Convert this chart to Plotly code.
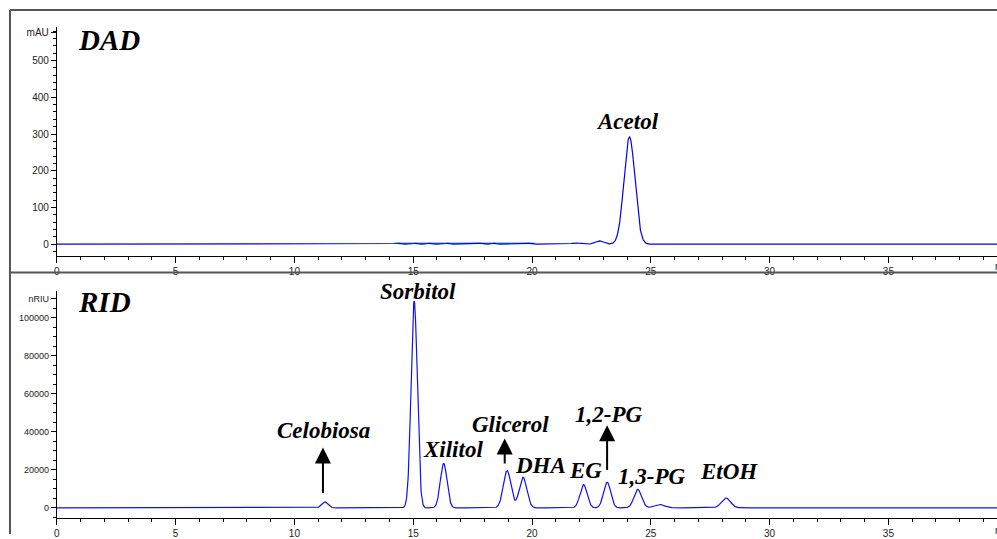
import numpy as np
import plotly.graph_objects as go

# ---------------- data ----------------
# RID detector peaks
rid_names = ["Celobiosa", "Sorbitol", "Xilitol", "Glicerol", "DHA", "EG", "1,2-PG", "1,3-PG", "unk", "EtOH"]
rid_times = [11.28, 15.04, 16.28, 18.95, 19.62, 22.17, 23.16, 24.45, 25.36, 28.16]   # min
rid_heights = [3100, 108700, 23400, 19600, 16100, 12200, 13500, 9700, 1800, 5200]    # nRIU
rid_sigmas = [0.13, 0.13, 0.14, 0.16, 0.16, 0.15, 0.15, 0.16, 0.22, 0.19]            # min

# DAD detector peaks
dad_times = [9.18, 14.4, 15.1, 15.7, 16.45, 17.8, 18.4, 19.9, 21.86, 22.84, 24.1]
dad_heights = [2, 2.5, 2.5, 2.5, 2.5, 3, 2.5, 2.5, 3.5, 9, 292]
dad_sigmas = [0.15, 0.08, 0.08, 0.08, 0.08, 0.1, 0.08, 0.08, 0.18, 0.18, 0.23]

# secondary (teal) DAD signal segment
dad2_start, dad2_end, dad2_level = 14.2, 20.1, 2.5

x_end = 39.57
dad_yticks = [0, 100, 200, 300, 400, 500]
rid_yticks = [0, 20000, 40000, 60000, 80000, 100000]
x_ticks = [0, 5, 10, 15, 20, 25, 30, 35]


def chromatogram(t, times, heights, sigmas):
    y = np.zeros_like(t)
    for c, h, s in zip(times, heights, sigmas):
        y += h * np.exp(-0.5 * ((t - c) / s) ** 2)
    return y


t = np.linspace(0, x_end, 4000)
dad_y = chromatogram(t, dad_times, dad_heights, dad_sigmas)
rid_y = chromatogram(t, rid_times, rid_heights, rid_sigmas)

t2 = np.linspace(dad2_start, dad2_end, 200)
dad2_y = np.full_like(t2, dad2_level)

fig = go.Figure()
fig.add_trace(go.Scatter(x=t2, y=dad2_y, mode="lines", line=dict(color="#3a9fc0", width=1.5),
                         xaxis="x", yaxis="y", hoverinfo="skip"))
fig.add_trace(go.Scatter(x=t, y=dad_y, mode="lines", line=dict(color="#0000ee", width=1.2),
                         xaxis="x", yaxis="y"))
fig.add_trace(go.Scatter(x=t, y=rid_y, mode="lines", line=dict(color="#1010f0", width=1.2),
                         xaxis="x2", yaxis="y2"))

tickfont = dict(family="Liberation Sans, Arial", size=10, color="#222")
x_common = dict(
    range=[0, x_end], domain=[54 / 997, 1], showline=True, linecolor="black", linewidth=1,
    ticks="outside", ticklen=6, tickcolor="black", tickvals=x_ticks, tickfont=tickfont,
    showgrid=False, zeroline=False,
    minor=dict(ticks="outside", ticklen=3, dtick=1, tickcolor="black", showgrid=False),
)
fig.update_layout(
    width=997, height=539, margin=dict(l=0, r=0, t=0, b=0),
    paper_bgcolor="white", plot_bgcolor="white", showlegend=False,
    xaxis=dict(**x_common, anchor="y"),
    xaxis2=dict(**x_common, anchor="y2"),
    yaxis=dict(range=[-31, 592], domain=[1 - 258 / 539, 1 - 27 / 539], anchor="x",
               showline=True, linecolor="black", linewidth=1, ticks="outside", ticklen=5,
               tickcolor="black", tickvals=dad_yticks + [575],
               ticktext=[str(v) for v in dad_yticks] + ["mAU"],
               tickfont=tickfont, showgrid=False, zeroline=False,
               minor=dict(ticks="outside", ticklen=3, dtick=20, tickcolor="black", showgrid=False)),
    yaxis2=dict(range=[-5400, 113900], domain=[1 - 523 / 539, 1 - 294 / 539], anchor="x2",
                showline=True, linecolor="black", linewidth=1, ticks="outside", ticklen=5,
                tickcolor="black", tickvals=rid_yticks + [110000],
                ticktext=[str(v) for v in rid_yticks] + ["nRIU"],
                tickfont=dict(family="Liberation Sans, Arial", size=9, color="#222"),
                showgrid=False, zeroline=False,
                minor=dict(ticks="outside", ticklen=3, dtick=5000, tickcolor="black", showgrid=False)),
)

# frame lines
frame = dict(color="#555", width=2)
fig.add_shape(type="line", xref="paper", yref="paper", x0=7 / 997, x1=1, y0=1 - 10 / 539, y1=1 - 10 / 539, line=frame)
fig.add_shape(type="line", xref="paper", yref="paper", x0=7 / 997, x1=7 / 997, y0=0, y1=1 - 10 / 539, line=frame)
fig.add_shape(type="line", xref="paper", yref="paper", x0=7 / 997, x1=1, y0=1 - 275 / 539, y1=1 - 275 / 539, line=frame)

lab_font = dict(family="Liberation Serif, Times New Roman", size=23, color="black")
big_font = dict(family="Liberation Serif, Times New Roman", size=29, color="black")


def label(text, x, y, xref, yref, font=lab_font):
    fig.add_annotation(text=f"<b><i>{text}</i></b>", x=x, y=y, xref=xref, yref=yref,
                       xanchor="left", yanchor="middle", showarrow=False, font=font)


label("DAD", 73 / 997, 1 - 40 / 539, "paper", "paper", big_font)
label("RID", 73 / 997, 1 - 305 / 539, "paper", "paper", big_font)
label("Acetol", 22.62, 333, "x", "y")

rid_label_pos = {
    "Celobiosa": (9.2, 40500),
    "Sorbitol": (13.51, 113750),
    "Xilitol": (15.32, 30940),
    "Glicerol": (17.4, 43960),
    "DHA": (19.22, 22240),
    "EG": (21.49, 19480),
    "1,2-PG": (21.74, 49170),
    "1,3-PG": (23.54, 16350),
    "EtOH": (26.98, 18960),
}
for name, (lx, ly) in rid_label_pos.items():
    label(name, lx, ly, "x2", "y2")

# arrows (tip, tail) in data units
arrows = [(11.2, 31800, 7000), (18.85, 36500, 22600), (23.16, 43400, 19100)]
for ax_x, tip, tail in arrows:
    fig.add_annotation(text="", x=ax_x, y=tip, ax=ax_x, ay=tail, xref="x2", yref="y2",
                       axref="x2", ayref="y2", showarrow=True, arrowhead=2, arrowsize=1.6,
                       arrowwidth=2, arrowcolor="black", standoff=0)

# cut-off "min" unit on x axes
for yp in (1 - 269 / 539, 1 - 535 / 539):
    fig.add_annotation(text="min", x=1, y=yp, xref="paper", yref="paper", xanchor="left",
                       xshift=-4, yanchor="middle", showarrow=False, font=tickfont)

fig.write_html(
    "out.html",
    config={"displayModeBar": False},
    post_script="document.body.style.margin='0';document.body.style.overflow='hidden';",
)
